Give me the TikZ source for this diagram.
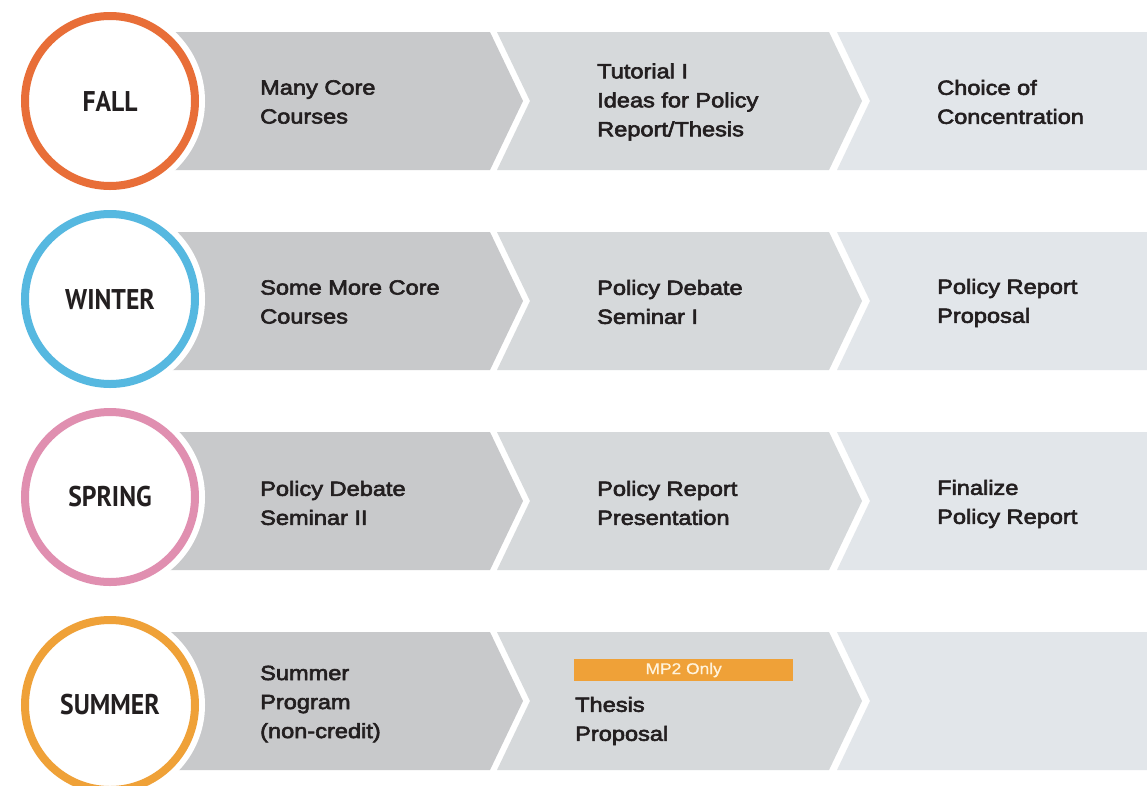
\documentclass[tikz,border=0pt]{standalone}
\usepackage{fontspec}
\setmainfont{Liberation Sans}
\newfontfamily\bandfam[FakeStretch=1.15,FakeBold=3]{Liberation Sans}
\newfontfamily\tagfam[FakeStretch=1.12,FakeBold=0.8]{Liberation Sans}
\newfontfamily\seasonfam[FakeStretch=0.9]{PT Sans Bold}
\definecolor{bandA}{RGB}{200,201,203}
\definecolor{bandB}{RGB}{214,217,219}
\definecolor{bandC}{RGB}{226,230,234}
\definecolor{txt}{RGB}{35,31,32}
\definecolor{fallc}{RGB}{232,110,56}
\definecolor{winterc}{RGB}{86,184,224}
\definecolor{springc}{RGB}{224,143,176}
\definecolor{summerc}{RGB}{239,161,56}
\definecolor{tagtxt}{RGB}{255,243,220}
\tikzset{
  season/.style={circle, minimum size=170pt, inner sep=0pt, line width=8pt, fill=white,
    preaction={draw=white, line width=20pt}, text=txt,
    font=\seasonfam\fontsize{28.5}{30}\selectfont},
  bandtext/.style={anchor=west, align=left, inner sep=0pt, text=txt,
    font=\bandfam\fontsize{20.5}{29}\selectfont},
  tagbox/.style={fill=summerc, minimum width=219pt, minimum height=22pt, inner sep=0pt,
    text=tagtxt, font=\tagfam\fontsize{15.5}{18}\selectfont},
}
\begin{document}
\begin{tikzpicture}[x=1pt,y=-1pt]
\useasboundingbox[fill=white] (0,0) rectangle (1147,785);
% bands
\foreach \k in {0,1,2,3}{
  \pgfmathsetmacro{\ya}{32+200*\k}
  \pgfmathsetmacro{\yb}{170+200*\k}
  \pgfmathsetmacro{\ym}{101+200*\k}
  \fill[bandA] (150,\ya) -- (490,\ya) -- (523,\ym) -- (490,\yb) -- (150,\yb) -- cycle;
  \fill[bandB] (497,\ya) -- (829,\ya) -- (862,\ym) -- (829,\yb) -- (497,\yb) -- (530,\ym) -- cycle;
  \fill[bandC] (837,\ya) -- (1147,\ya) -- (1147,\yb) -- (837,\yb) -- (870,\ym) -- cycle;
}
% seasons
\node[season, draw=fallc] (fall) at (110,101) {FALL};
\node[season, draw=winterc] (winter) at (110,299) {WINTER};
\node[season, draw=springc] (spring) at (110,497) {SPRING};
\node[season, draw=summerc] (summer) at (110,705) {SUMMER};
% fall
\node[bandtext] (f1) at (260,102) {Many Core\\Courses};
\node[bandtext] (f2) at (597,102) {Tutorial I\\Ideas for Policy\\Report/Thesis};
\node[bandtext] (f3) at (937,102) {Choice of\\Concentration};
% winter
\node[bandtext] (w1) at (260,302) {Some More Core\\Courses};
\node[bandtext] (w2) at (597,302) {Policy Debate\\Seminar I};
\node[bandtext] (w3) at (937,303) {Policy Report\\Proposal};
% spring
\node[bandtext] (s1) at (260,503) {Policy Debate\\Seminar II};
\node[bandtext] (s2) at (597,503) {Policy Report\\Presentation};
\node[bandtext] (s3) at (937,504) {Finalize\\Policy Report};
% summer
\node[bandtext] (u1) at (260,704) {Summer\\Program\\(non-credit)};
\node[tagbox, anchor=west] (tag) at (574,670) {MP2 Only};
\node[bandtext] (u2) at (575,721) {Thesis\\Proposal};
\end{tikzpicture}
\end{document}
